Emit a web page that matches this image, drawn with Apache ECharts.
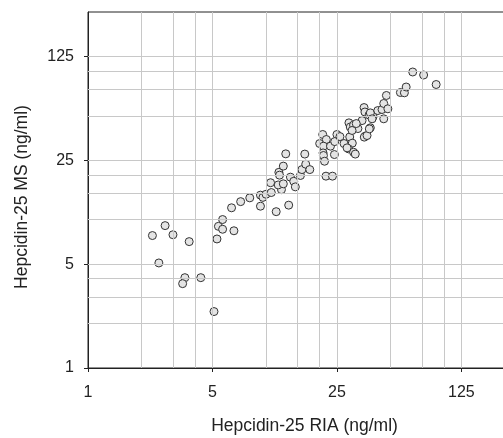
<!DOCTYPE html>
<html>
<head>
<meta charset="utf-8">
<script src="https://cdn.jsdelivr.net/npm/echarts@6/dist/echarts.min.js"></script>
<style>html,body{margin:0;padding:0;background:#fff}#c{width:503px;height:438px}</style>
</head>
<body>
<div id="c"></div>
<script>
// Hepcidin-25 RIA (x) vs MS (y), ng/ml
var riaValues = [2.3,2.71,3.0,3.7,2.5,3.5,3.4,4.3,5.1,5.3,5.4,5.7,5.7,6.6,6.4,7.2,8.1,9.3,9.3,9.6,10.0,10.7,11.4,12.2,13.4,10.6,11.7,12.5,11.8,11.9,12.5,12.9,13.7,14.3,14.6,15.6,15.9,16.7,17.6,16.5,
  20.0,20.8,21.8,21.0,23.0,25.0,24.3,26.0,20.9,21.0,21.3,24.2,21.7,23.6,29.2,29.7,31.0,32.8,34.6,38.5,36.1,27.4,29.5,30.5,29.1,31.0,31.7,28.5,35.5,35.9,37.9,39.9,38.5,39.4,42.4,44.8,45.8,48.3,47.4,45.8,35.6,36.9,38.0,30.4,32.1,
  56.8,59.8,61.2,66.6,76.7,90.2];
var msValues = [7.8,9.1,7.9,7.1,5.1,4.06,3.7,4.06,2.4,7.4,9.0,8.6,10.0,8.4,12.0,13.2,14.0,14.6,12.3,14.1,14.8,15.2,11.3,15.9,12.5,17.7,17.1,17.4,20.8,19.9,22.9,27.7,19.3,18.1,16.6,19.8,21.7,23.6,21.7,27.6,
  32.5,37.4,34.6,31.2,31.2,37.4,33.5,36.2,28.1,27.0,24.7,27.4,19.6,19.6,44.8,42.0,43.3,41.0,46.4,41.5,36.5,32.5,36.0,32.7,29.9,28.4,27.6,30.4,56.8,53.0,50.6,49.4,52.3,47.7,54.2,55.1,60.5,55.7,68.5,47.7,35.9,36.8,40.8,39.8,44.3,
  71.7,71.4,78.1,98.6,94.1,81.2];
var tickValues = [1, 5, 25, 125];
var gridValues = [2, 3, 4, 5, 10, 15, 20, 25, 50, 75, 100, 125];
var axisMin = 1, axisMax = 250;
var xName = 'Hepcidin-25 RIA (ng/ml)';
var yName = 'Hepcidin-25 MS (ng/ml)';

var points = riaValues.map(function (x, i) { return [x, msValues[i]]; });
var gridLines = [];
gridValues.forEach(function (v) { gridLines.push({ xAxis: v }); gridLines.push({ yAxis: v }); });

var font = 'Liberation Sans, Arial, Helvetica, sans-serif';
var textColor = '#222';

function axis(name, gap, margin, namePadding) {
  return {
    type: 'log', logBase: 5, min: axisMin, max: axisMax,
    name: name, nameLocation: 'middle', nameGap: gap,
    nameTextStyle: { fontFamily: font, fontSize: 17.5, color: textColor, padding: namePadding },
    axisLine: { show: true, onZero: false, lineStyle: { color: '#222', width: 1 } },
    axisTick: { show: true, inside: false, length: 4, customValues: tickValues, lineStyle: { color: '#222', width: 1 } },
    axisLabel: { customValues: tickValues, margin: margin, fontFamily: font, fontSize: 16, color: textColor },
    splitLine: { show: false },
    minorTick: { show: false }, minorSplitLine: { show: false }
  };
}

var chart = echarts.init(document.getElementById('c'), null, { renderer: 'canvas' });
chart.setOption({
  animation: false,
  backgroundColor: '#fff',
  grid: { left: 88, width: 427, top: 12, height: 356, outerBoundsMode: 'none', containLabel: false,
          show: true, borderColor: '#222', borderWidth: 1, backgroundColor: 'transparent' },
  xAxis: axis(xName, 49, 17, [0, 0, 0, 6]),
  yAxis: axis(yName, 57, 14, [0, 14, 0, 0]),
  series: [
    {
      type: 'line', data: [], z: 1, silent: true,
      markLine: {
        silent: true, symbol: ['none', 'none'], animation: false,
        label: { show: false },
        lineStyle: { color: '#c8c8c8', width: 1, type: 'solid' },
        emphasis: { disabled: true },
        data: gridLines
      }
    },
    {
      type: 'scatter', z: 3, data: points, symbol: 'circle', symbolSize: 8,
      itemStyle: { color: '#e4e4e4', borderColor: '#333', borderWidth: 1, opacity: 1 }
    }
  ]
});
</script>
</body>
</html>
